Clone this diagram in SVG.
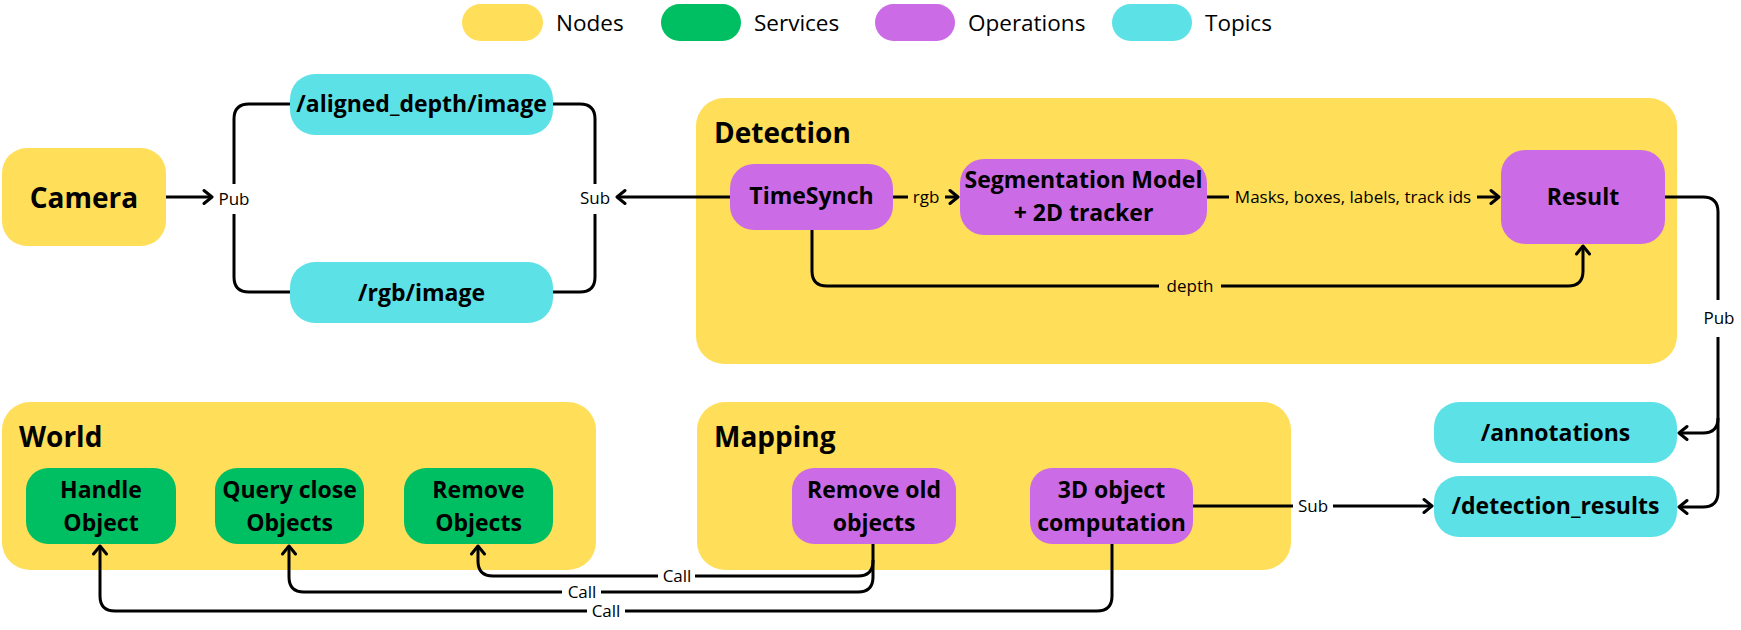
<svg xmlns="http://www.w3.org/2000/svg" width="1741" height="630" viewBox="0 0 1741 630">
<style>
.node{fill:#FFDE59}
.svc{fill:#00BF63}
.op{fill:#CB6CE6}
.topic{fill:#5CE1E6}
.lbl{font-family:"Open Sans","Noto Sans","Liberation Sans",sans-serif;font-weight:bold;font-size:23px;fill:#000;text-anchor:middle}
.ttl{font-family:"Open Sans","Noto Sans","Liberation Sans",sans-serif;font-weight:bold;font-size:28px;fill:#000}
.leg{font-family:"Open Sans","Noto Sans","Liberation Sans",sans-serif;font-size:22.5px;fill:#000}
.sm{font-family:"Open Sans","Noto Sans","Liberation Sans",sans-serif;font-size:17px;fill:#000;text-anchor:middle}
.ln{fill:none;stroke:#000;stroke-width:3;stroke-linecap:butt;stroke-linejoin:round}
</style>
<defs>
<marker id="ah" viewBox="-11 -9 13 18" markerWidth="13" markerHeight="18" refX="0" refY="0" orient="auto" markerUnits="userSpaceOnUse">
<path d="M-8,-6.5 L0,0 L-8,6.5" fill="none" stroke="#000" stroke-width="3" stroke-linecap="round" stroke-linejoin="round"/>
</marker>
</defs>
<rect width="1741" height="630" fill="#fff"/>

<g id="legend">
<rect class="node" x="462" y="4" width="81" height="37" rx="18.5"/>
<text class="leg" x="556" y="31">Nodes</text>
<rect class="svc" x="661" y="4" width="80" height="37" rx="18.5"/>
<text class="leg" x="754" y="31">Services</text>
<rect class="op" x="875" y="4" width="80" height="37" rx="18.5"/>
<text class="leg" x="968" y="31">Operations</text>
<rect class="topic" x="1112" y="4" width="80" height="37" rx="18.5"/>
<text class="leg" x="1205" y="31">Topics</text>
</g>

<g id="detection">
<rect class="node" x="696" y="98" width="981" height="266" rx="28"/>
<text class="ttl" x="714" y="143">Detection</text>
</g>
<g id="world">
<rect class="node" x="2" y="402" width="594" height="168" rx="28"/>
<text class="ttl" x="19" y="447">World</text>
</g>
<g id="mapping">
<rect class="node" x="697" y="402" width="594" height="168" rx="28"/>
<text class="ttl" x="714" y="447">Mapping</text>
</g>

<g id="connectors">
<path class="ln" d="M166,197 H212" marker-end="url(#ah)"/>
<path class="ln" d="M290,104 H249 Q234,104 234,119 V184"/>
<path class="ln" d="M234,214 V277 Q234,292 249,292 H290"/>
<path class="ln" d="M553,104 H580 Q595,104 595,119 V184"/>
<path class="ln" d="M553,292 H580 Q595,292 595,277 V214"/>
<path class="ln" d="M730,197 H617" marker-end="url(#ah)"/>
<path class="ln" d="M893,197 H908"/>
<path class="ln" d="M945,197 H958" marker-end="url(#ah)"/>
<path class="ln" d="M1207,197 H1229"/>
<path class="ln" d="M1477,197 H1499" marker-end="url(#ah)"/>
<path class="ln" d="M812,230 V271 Q812,286 827,286 H1159"/>
<path class="ln" d="M1221,286 H1568 Q1583,286 1583,271 V246" marker-end="url(#ah)"/>
<path class="ln" d="M1665,197 H1703 Q1718,197 1718,212 V300"/>
<path class="ln" d="M1718,337 V418 Q1718,433 1703,433 H1679" marker-end="url(#ah)"/>
<path class="ln" d="M1718,418 V492 Q1718,507 1703,507 H1679" marker-end="url(#ah)"/>
<path class="ln" d="M1193,506 H1293"/>
<path class="ln" d="M1333,506 H1432" marker-end="url(#ah)"/>
<path class="ln" d="M873,544 V561 Q873,576 858,576 H695"/>
<path class="ln" d="M658,576 H493 Q478,576 478,561 V546" marker-end="url(#ah)"/>
<path class="ln" d="M873,560 V577 Q873,592 858,592 H601"/>
<path class="ln" d="M562,592 H304 Q289,592 289,577 V546" marker-end="url(#ah)"/>
<path class="ln" d="M1112,544 V596 Q1112,611 1097,611 H625"/>
<path class="ln" d="M587,611 H115 Q100,611 100,596 V546" marker-end="url(#ah)"/>
<text class="sm" x="234" y="205">Pub</text>
<text class="sm" x="595" y="204">Sub</text>
<text class="sm" x="926" y="203">rgb</text>
<text class="sm" x="1353" y="203">Masks, boxes, labels, track ids</text>
<text class="sm" x="1190" y="292">depth</text>
<text class="sm" x="1719" y="324">Pub</text>
<text class="sm" x="1313" y="512">Sub</text>
<text class="sm" x="677" y="582">Call</text>
<text class="sm" x="582" y="598">Call</text>
<text class="sm" x="606" y="617">Call</text>
</g>

<g id="camera">
<rect class="node" x="2" y="148" width="164" height="98" rx="25"/>
<text class="lbl" x="84" y="208" style="font-size:28px">Camera</text>
</g>
<g id="aligned_depth">
<rect class="topic" x="290" y="74" width="263" height="61" rx="25"/>
<text class="lbl" x="421.5" y="112">/aligned_depth/image</text>
</g>
<g id="rgb_image">
<rect class="topic" x="290" y="262" width="263" height="61" rx="25"/>
<text class="lbl" x="421.5" y="301">/rgb/image</text>
</g>
<g id="timesynch">
<rect class="op" x="730" y="164" width="163" height="66" rx="24"/>
<text class="lbl" x="811.5" y="204">TimeSynch</text>
</g>
<g id="segmentation">
<rect class="op" x="960" y="159" width="247" height="76" rx="24"/>
<text class="lbl" x="1083.5" y="188">Segmentation Model</text>
<text class="lbl" x="1083.5" y="221">+ 2D tracker</text>
</g>
<g id="result">
<rect class="op" x="1501" y="150" width="164" height="94" rx="24"/>
<text class="lbl" x="1583" y="205">Result</text>
</g>
<g id="annotations">
<rect class="topic" x="1434" y="402" width="243" height="61" rx="25"/>
<text class="lbl" x="1555.5" y="441">/annotations</text>
</g>
<g id="detection_results">
<rect class="topic" x="1434" y="476" width="243" height="61" rx="25"/>
<text class="lbl" x="1555.5" y="514">/detection_results</text>
</g>
<g id="handle_object">
<rect class="svc" x="26" y="468" width="150" height="76" rx="22"/>
<text class="lbl" x="101" y="498">Handle</text>
<text class="lbl" x="101" y="531">Object</text>
</g>
<g id="query_close">
<rect class="svc" x="215" y="468" width="149" height="76" rx="22"/>
<text class="lbl" x="289.5" y="498">Query close</text>
<text class="lbl" x="289.5" y="531">Objects</text>
</g>
<g id="remove_objects">
<rect class="svc" x="404" y="468" width="149" height="76" rx="22"/>
<text class="lbl" x="478.5" y="498">Remove</text>
<text class="lbl" x="478.5" y="531">Objects</text>
</g>
<g id="remove_old">
<rect class="op" x="792" y="468" width="164" height="76" rx="22"/>
<text class="lbl" x="874" y="498">Remove old</text>
<text class="lbl" x="874" y="531">objects</text>
</g>
<g id="object3d">
<rect class="op" x="1030" y="468" width="163" height="76" rx="22"/>
<text class="lbl" x="1111.5" y="498">3D object</text>
<text class="lbl" x="1111.5" y="531">computation</text>
</g>
</svg>
